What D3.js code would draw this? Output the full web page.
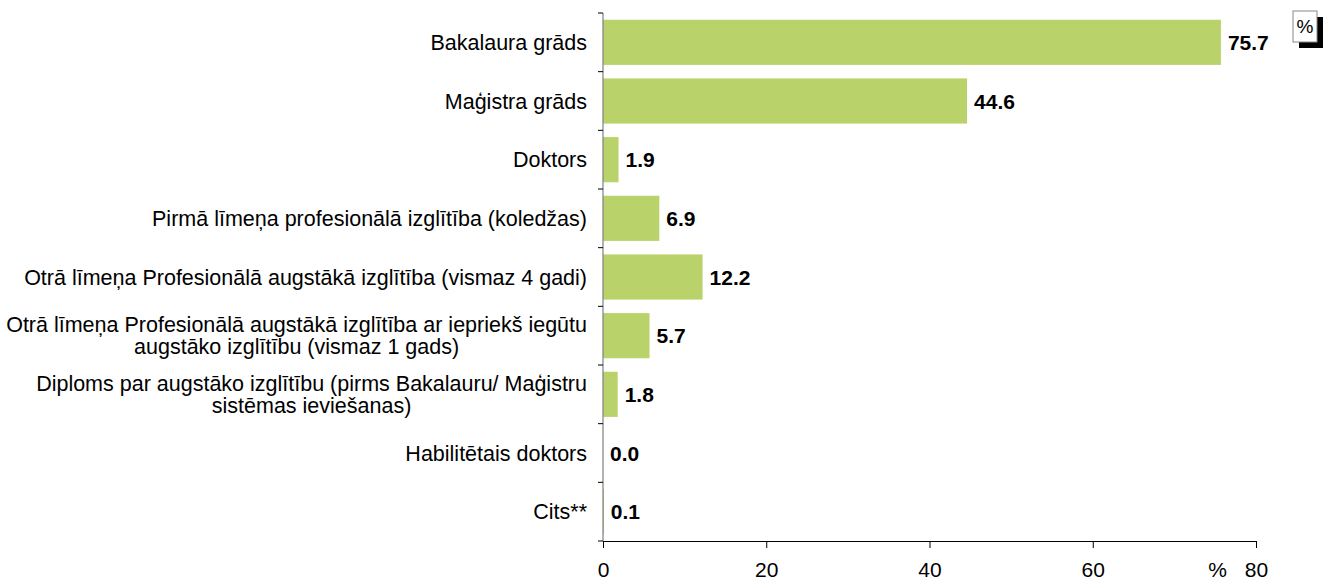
<!DOCTYPE html>
<html>
<head>
<meta charset="utf-8">
<script src="https://cdn.jsdelivr.net/npm/d3@7"></script>
<style>
  body { margin: 0; background: #fff; }
  svg { display: block; font-family: "Liberation Sans", Arial, sans-serif; }
</style>
</head>
<body>
<svg id="chart"></svg>
<script>
const width = 1329;
const height = 584;

// data
const categories = [
  ["Bakalaura grāds"],
  ["Maģistra grāds"],
  ["Doktors"],
  ["Pirmā līmeņa profesionālā izglītība (koledžas)"],
  ["Otrā līmeņa Profesionālā augstākā izglītība (vismaz 4 gadi)"],
  ["Otrā līmeņa Profesionālā augstākā izglītība ar iepriekš iegūtu", "augstāko izglītību (vismaz 1 gads)"],
  ["Diploms par augstāko izglītību (pirms Bakalauru/ Maģistru", "sistēmas ieviešanas)"],
  ["Habilitētais doktors"],
  ["Cits**"]
];
const values = [75.7, 44.6, 1.9, 6.9, 12.2, 5.7, 1.8, 0.0, 0.1];
const xTicks = [0, 20, 40, 60, 80];
const unitLabel = "%";

const margin = {top: 13, right: 73, bottom: 43, left: 603};
const fontSize = 21;
const labelSize = 21.5;
const barColor = "#b9d36a";

const svg = d3.select("#chart").attr("width", width).attr("height", height);

const x = d3.scaleLinear()
    .domain([0, 80])
    .range([margin.left, width - margin.right]);

const y = d3.scaleBand()
    .domain(d3.range(categories.length))
    .range([margin.top, height - margin.bottom])
    .padding(0);

const barH = y.bandwidth() * 0.77;

// bars
svg.append("g").selectAll("rect")
    .data(values)
    .join("rect")
    .attr("x", x(0))
    .attr("y", (d, i) => y(i) + (y.bandwidth() - barH) / 2)
    .attr("width", d => x(d) - x(0))
    .attr("height", barH)
    .attr("fill", barColor);

// value labels
svg.append("g").selectAll("text")
    .data(values)
    .join("text")
    .attr("x", d => x(d) + 7)
    .attr("y", (d, i) => y(i) + y.bandwidth() / 2)
    .attr("dy", "0.36em")
    .attr("font-size", fontSize)
    .attr("font-weight", "bold")
    .attr("fill", "#000")
    .text(d => d.toFixed(1));

// y axis line + ticks at band boundaries
const yAxis = svg.append("g");
yAxis.append("line")
    .attr("x1", x(0)).attr("x2", x(0))
    .attr("y1", margin.top).attr("y2", height - margin.bottom)
    .attr("stroke", "#7f7f7f").attr("stroke-width", 1.2);
const bounds = d3.range(categories.length + 1).map(i => margin.top + i * y.step());
yAxis.selectAll(".tk")
    .data(bounds)
    .join("line")
    .attr("class", "tk")
    .attr("x1", x(0) - 5).attr("x2", x(0))
    .attr("y1", d => d).attr("y2", d => d)
    .attr("stroke", "#000");

// category labels (multi-line ones centred on their block)
const labelRight = x(0) - 16;
const lineH = 22;
categories.forEach((lines, i) => {
  const g = svg.append("g");
  const cy = y(i) + y.bandwidth() / 2;
  const texts = lines.map((t, j) => g.append("text")
      .attr("y", cy + (j - (lines.length - 1) / 2) * lineH)
      .attr("dy", "0.36em")
      .attr("font-size", labelSize)
      .attr("fill", "#000")
      .text(t));
  const widths = texts.map(t => t.node().getComputedTextLength());
  const maxW = d3.max(widths);
  const cx = labelRight - maxW / 2;
  texts.forEach(t => t.attr("x", cx).attr("text-anchor", "middle"));
});

// x axis
const xAxis = svg.append("g")
    .attr("transform", `translate(0,${height - margin.bottom})`)
    .call(d3.axisBottom(x).tickValues(xTicks).tickSize(7).tickPadding(14).tickSizeOuter(0));
xAxis.select(".domain").attr("stroke", "#000");
xAxis.selectAll(".tick line").attr("stroke", "#000");
xAxis.selectAll(".tick text")
    .attr("font-size", fontSize)
    .attr("font-family", "Liberation Sans, Arial, sans-serif")
    .attr("fill", "#000");

svg.append("text")
    .attr("x", x(75.3))
    .attr("y", height - margin.bottom + 21)
    .attr("dy", "0.71em")
    .attr("text-anchor", "middle")
    .attr("font-size", fontSize)
    .text(unitLabel);

// small boxed unit label in the corner
const box = svg.append("g").attr("transform", "translate(1293,11)");
box.append("rect").attr("x", 6).attr("y", 6).attr("width", 24).attr("height", 31).attr("fill", "#000");
box.append("rect").attr("x", 0).attr("y", 0).attr("width", 24).attr("height", 31)
    .attr("fill", "#fff").attr("stroke", "#888").attr("stroke-width", 1);
box.append("text")
    .attr("x", 12).attr("y", 15).attr("dy", "0.36em")
    .attr("text-anchor", "middle").attr("font-size", 19)
    .text(unitLabel);
</script>
</body>
</html>
